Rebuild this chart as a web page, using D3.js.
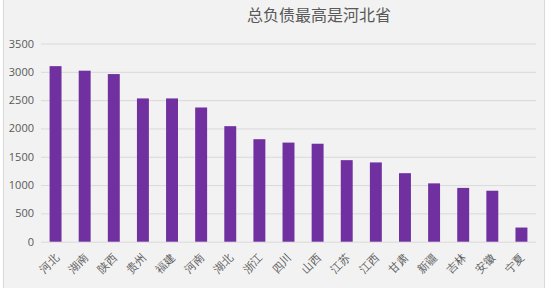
<!DOCTYPE html>
<html>
<head>
<meta charset="utf-8">
<script src="https://cdn.jsdelivr.net/npm/d3@7"></script>
<style>
  body { margin: 0; background: #fff; }
  svg { display: block; font-family: "Noto Sans CJK SC", "Open Sans", sans-serif; }
</style>
</head>
<body>
<div id="chart"></div>
<script>
// provinces (last labels are under the watermark in the source, guessed)
var provinces = ['河北', '湖南', '陕西', '贵州', '福建', '河南', '湖北', '浙江', '四川',
                 '山西', '江苏', '江西', '甘肃', '新疆', '吉林', '安徽', '宁夏'];
var debt = [3100, 3020, 2960, 2530, 2530, 2370, 2040, 1810, 1750,
            1730, 1440, 1400, 1210, 1030, 950, 900, 250];
var yTicks = [0, 500, 1000, 1500, 2000, 2500, 3000, 3500];
var title = '总负债最高是河北省';

var w = 550, h = 288;
var plotLeft = 41, plotRight = 536, plotTop = 43.5, plotBottom = 241.7;

var svg = d3.select('#chart').append('svg')
  .attr('width', w)
  .attr('height', h);

// chart area frame
svg.append('rect')
  .attr('x', 3.5).attr('y', -2)
  .attr('width', 541).attr('height', h + 4)
  .attr('fill', '#f2f2f2')
  .attr('stroke', '#d9d9d9');

var x = d3.scaleBand().domain(provinces).range([plotLeft, plotRight]).paddingInner(0.59).paddingOuter(0.295);
var y = d3.scaleLinear().domain([0, 3500]).range([plotBottom, plotTop]);

// gridlines + y labels
var yAxis = svg.append('g')
  .attr('transform', 'translate(' + plotLeft + ',0)')
  .call(d3.axisLeft(y).tickValues(yTicks).tickFormat(d3.format('d'))
          .tickSize(-(plotRight - plotLeft)).tickPadding(7));
yAxis.select('.domain').remove();
yAxis.selectAll('line').attr('stroke', '#d9d9d9');
yAxis.selectAll('text')
  .attr('fill', '#595959')
  .style('font-size', '11px')
  .style('font-family', '"Open Sans", sans-serif');

// bars
svg.selectAll('rect.bar').data(debt).enter()
  .append('rect')
  .attr('class', 'bar')
  .attr('x', function(d, i) { return x(provinces[i]); })
  .attr('y', function(d) { return y(d); })
  .attr('width', x.bandwidth())
  .attr('height', function(d) { return y(0) - y(d); })
  .attr('fill', '#7030a0');

// x labels, rotated
var xAxis = svg.append('g')
  .attr('transform', 'translate(0,' + plotBottom + ')')
  .call(d3.axisBottom(x).tickSize(0).tickPadding(0));
xAxis.select('.domain').remove();
xAxis.selectAll('text')
  .attr('fill', '#595959')
  .style('font-size', '11px')
  .attr('text-anchor', 'end')
  .attr('dy', '0.35em')
  .attr('transform', 'translate(1,14) rotate(-45)');

// title
svg.append('text')
  .attr('x', 319)
  .attr('y', 21)
  .attr('text-anchor', 'middle')
  .attr('fill', '#595959')
  .style('font-size', '16px')
  .text(title);
</script>
</body>
</html>
